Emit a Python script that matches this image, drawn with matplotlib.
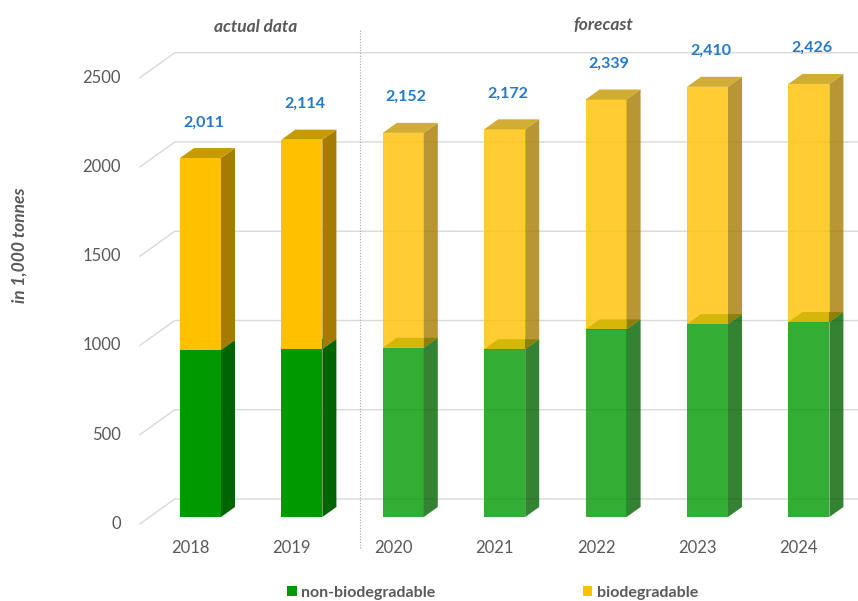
import matplotlib.pyplot as plt
from matplotlib.patches import Polygon, Patch

plt.rcParams['font.family'] = ['Lato', 'DejaVu Sans']

years = ['2018', '2019', '2020', '2021', '2022', '2023', '2024']
totals = [2011, 2114, 2152, 2172, 2339, 2410, 2426]
non_bio = [935, 941, 948, 940, 1051, 1081, 1092]
bio = [t - n for t, n in zip(totals, non_bio)]
is_forecast = [False, False, True, True, True, True, True]
yticks = [0, 500, 1000, 1500, 2000, 2500]

# pixel layout of the pseudo-3D plot
W, H, DPI = 858, 601, 100
X0_PX, STEP_PX = 200.5, 101.4     # first bar centre, bar spacing
BASE_PX, PPU = 517, 0.1785        # bar base line, pixels per unit

def dx(px):
    return px / STEP_PX

def dy(px):
    return px / PPU

bar_w = dx(41)
depth = (dx(14), dy(10))
wall = (dx(25), dy(18))
front = (dx(-10), dy(-7))
left = -0.5

green, green_side, green_top = '#009900', '#006400', '#007A00'
yellow, yellow_side, yellow_top = '#FFC000', '#A67C00', '#C69A00'
grid_c = '#D9D9D9'
text_c = '#595959'
label_c = '#2479C8'

fig = plt.figure(figsize=(W / DPI, H / DPI), dpi=DPI)
ax = fig.add_axes([0, 0, 1, 1])
x_min, x_max = -X0_PX / STEP_PX, (W - X0_PX) / STEP_PX
ax.set_xlim(x_min, x_max)
ax.set_ylim((BASE_PX - H) / PPU, BASE_PX / PPU)
ax.axis('off')

# back wall gridlines with the diagonal floor/side lines
for v in yticks:
    ax.plot([left + front[0], left + wall[0], x_max],
            [v + front[1], v + wall[1], v + wall[1]],
            color=grid_c, lw=1, zorder=1)
    ax.text(left + front[0] - dx(19), v + front[1], str(v),
            ha='right', va='center', fontsize=12, color=text_c)


def box(x0, bottom, top, c_front, c_side, c_top, alpha):
    ddx, ddy = depth
    faces = [
        ([(x0, bottom), (x0 + bar_w, bottom), (x0 + bar_w, top), (x0, top)], c_front),
        ([(x0 + bar_w, bottom), (x0 + bar_w + ddx, bottom + ddy),
          (x0 + bar_w + ddx, top + ddy), (x0 + bar_w, top)], c_side),
        ([(x0, top), (x0 + bar_w, top), (x0 + bar_w + ddx, top + ddy),
          (x0 + ddx, top + ddy)], c_top),
    ]
    for pts, c in faces:
        ax.add_patch(Polygon(pts, closed=True, facecolor=c, edgecolor='none',
                             alpha=alpha, zorder=3))


for i, (n, b, t, fc) in enumerate(zip(non_bio, bio, totals, is_forecast)):
    a = 0.8 if fc else 1.0
    x0 = i - bar_w / 2
    box(x0, 0, n, green, green_side, green_top, a)
    box(x0, n, n + b, yellow, yellow_side, yellow_top, a)
    ax.text(i + 0.03, t + 200, f'{t:,}', ha='center', va='center',
            fontsize=11.5, fontweight='bold', color=label_c, zorder=4)
    ax.text(i + front[0], dy(-31), years[i], ha='center', va='center',
            fontsize=12, color=text_c)

# divider between actual and forecast years
ax.plot([1.57, 1.57], [dy(-31), dy(487)], color='#A6A6A6', lw=0.8,
        ls=(0, (1, 1.5)), zorder=2)
ax.text(0.54, dy(490), 'actual data', ha='center', va='center', fontsize=12.5,
        style='italic', fontweight='bold', color=text_c)
ax.text(3.97, dy(492), 'forecast', ha='center', va='center', fontsize=12.5,
        style='italic', fontweight='bold', color=text_c)

fig.text(20 / W, 1 - 245 / H, 'in 1,000 tonnes', rotation=90, ha='center',
         va='center', fontsize=12.5, style='italic', fontweight='bold',
         color=text_c)

handles = [Patch(facecolor=green, label='non-biodegradable'),
           Patch(facecolor=yellow, label='biodegradable')]
fig.legend(handles=handles, loc='center left', ncol=2,
           bbox_to_anchor=(287 / W, 1 - 593 / H), frameon=False,
           handlelength=0.6, handleheight=0.6,
           handletextpad=0.3, columnspacing=9.2, borderpad=0,
           borderaxespad=0, labelcolor=text_c,
           prop={'weight': 'bold', 'size': 11.5})

fig.savefig('out.png', dpi=DPI)
